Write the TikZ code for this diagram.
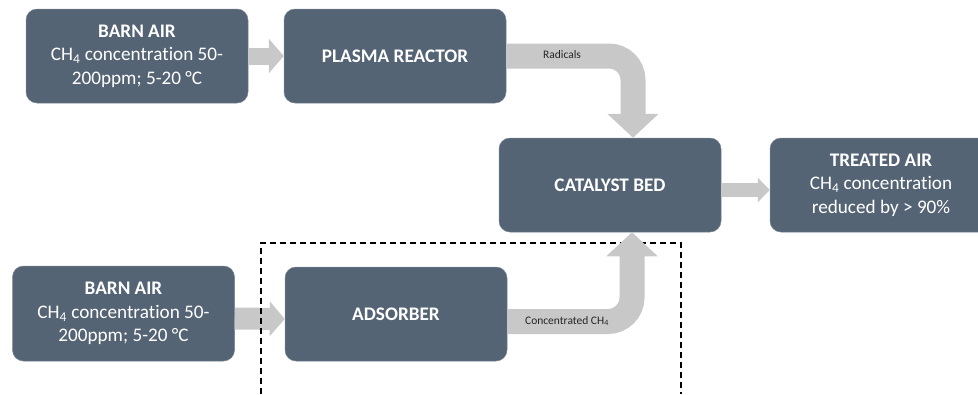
\documentclass[tikz,border=0pt]{standalone}
\usepackage{fontspec}
\setmainfont{Carlito}[Ligatures=NoCommon]
\usetikzlibrary{arrows.meta,calc}
\definecolor{boxc}{RGB}{84,100,116}
\definecolor{boxedge}{RGB}{118,132,146}
\definecolor{arrowc}{RGB}{200,200,200}
\definecolor{labelc}{RGB}{38,38,38}
\tikzset{
  box/.style={rectangle, rounded corners=11pt, fill=boxc, draw=boxedge, line width=0.5pt,
    minimum width=222pt, minimum height=94pt, inner sep=0pt, text=white, align=center,
    font=\fontsize{19.2}{23.5}\selectfont},
  flowlabel/.style={font=\fontsize{11.5}{13}\selectfont, text=labelc, inner sep=0pt},
  smallarrow/.style={draw=arrowc, line width=17pt, -{Triangle[width=34pt,length=15pt,fill=arrowc]}},
  midarrow/.style={draw=arrowc, line width=14pt, -{Triangle[width=24pt,length=12pt,fill=arrowc]}},
  bigarrow/.style={draw=arrowc, line width=25pt, rounded corners=24pt, -{Triangle[width=50pt,length=24pt,fill=arrowc]}},
  boundary/.style={draw=black, line width=1.3pt, dash pattern=on 6pt off 4pt}
}
\begin{document}
\begin{tikzpicture}[x=1pt,y=-1pt]
\useasboundingbox (0,0) rectangle (978,394);
\clip (0,0) rectangle (978,394);

% nodes
\node[box] (barn1) at (137,56) {\textbf{BARN AIR}\\CH\textsubscript{4} concentration 50-\\200ppm; 5-20 °C};
\node[box] (plasma) at (395,56) {\textbf{PLASMA REACTOR}};
\node[box] (catalyst) at (610,185) {\textbf{CATALYST BED}};
\node[box] (treated) at (881,185) {\textbf{TREATED AIR}\\CH\textsubscript{4} concentration\\reduced by > 90\%};
\node[box, minimum height=95pt] (barn2) at (123.5,313.5) {\textbf{BARN AIR}\\CH\textsubscript{4} concentration 50-\\200ppm; 5-20 °C};
\node[box] (adsorber) at (396,314) {\textbf{ADSORBER}};

% straight arrows
\draw[smallarrow] (barn1.east) -- (plasma.west);
\draw[smallarrow, line width=22pt] ([yshift=-5pt]barn2.east) -- ([yshift=-5pt]adsorber.west);
\draw[midarrow] ([yshift=-5pt]catalyst.east) -- ([yshift=-5pt]treated.west);

% dashed boundary (open at the bottom)
\coordinate (dbl) at (261,394);
\coordinate (dtl) at (261,243);
\coordinate (dtr) at (681,243);
\coordinate (dbr) at (681,394);
\draw[boundary] (dbl) -- (dtl) -- (dtr) -- (dbr);

% curved arrows
\draw[bigarrow] (plasma.east) -| ([xshift=23pt]catalyst.north);
\draw[bigarrow] ([yshift=-7.5pt]adsorber.east) -| ([xshift=22pt]catalyst.south);

% labels
\node[flowlabel] (radlabel) at (562,55) {Radicals};
\node[flowlabel] (conclabel) at (567,321) {Concentrated CH\textsubscript{4}};
\end{tikzpicture}
\end{document}
